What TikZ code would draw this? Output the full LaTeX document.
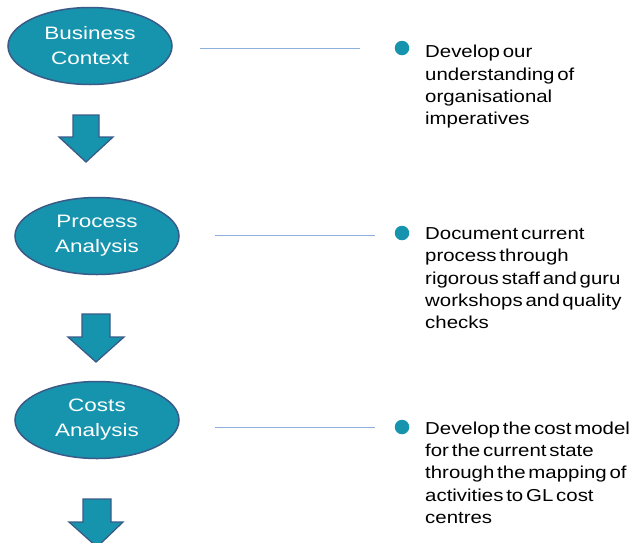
\documentclass[tikz,border=0pt]{standalone}
\usepackage{fontspec}
\setmainfont{Liberation Sans}
\newfontfamily\stagefont[FakeStretch=1.25]{Liberation Sans}
\newfontfamily\descfont[FakeStretch=1.18,WordSpace=0.5]{Liberation Sans}
\usetikzlibrary{shapes.geometric}
\definecolor{tealfill}{HTML}{1794AD}
\definecolor{edgeblue}{HTML}{3A5A88}
\definecolor{lineblue}{HTML}{8DB0DC}
\begin{document}
\begin{tikzpicture}[x=1pt,y=-1pt,
  stage/.style={ellipse,draw=edgeblue,line width=1.5pt,fill=tealfill,text=white,
    minimum width=164pt,minimum height=77pt,inner sep=0pt,align=center,
    font=\stagefont\fontsize{18}{25}\selectfont},
  downarrow/.style={draw=edgeblue,line width=1.3pt,fill=tealfill,line join=miter},
  link/.style={draw=lineblue,line width=0.8pt},
  dot/.style={circle,fill=tealfill,minimum size=14.5pt,inner sep=0pt},
  desc/.style={anchor=north west,align=left,inner sep=0pt,
    font=\descfont\fontsize{17.3}{22.3}\selectfont}]
\useasboundingbox (0,0) rectangle (635,542);
% stages
\node[stage] (s1) at (90,46) {Business\\Context};
\node[stage] (s2) at (97,236) {Process\\Analysis};
\node[stage] (s3) at (97,420) {Costs\\Analysis};
% arrows
\draw[downarrow] (73,115) -- (99,115) -- (99,137) -- (113,137) -- (86,162) -- (59,137) -- (73,137) -- cycle;
\draw[downarrow] (82,314) -- (110,314) -- (110,337) -- (124,337) -- (96,362) -- (68,337) -- (82,337) -- cycle;
\draw[downarrow] (83,499) -- (111,499) -- (111,522) -- (123,522) -- (97,547) -- (69,522) -- (83,522) -- cycle;
% link lines
\coordinate (l1a) at (200,48); \coordinate (l1b) at (360,48);
\coordinate (l2a) at (215,235); \coordinate (l2b) at (375,235);
\coordinate (l3a) at (215,427); \coordinate (l3b) at (375,427);
\draw[link] (l1a) -- (l1b);
\draw[link] (l2a) -- (l2b);
\draw[link] (l3a) -- (l3b);
% bullets
\node[dot] (b1) at (402,48) {};
\node[dot] (b2) at (402,233) {};
\node[dot] (b3) at (402,427) {};
\node[desc] (t1) at (425,45) {Develop our\\understanding of\\organisational\\imperatives};
\node[desc] (t2) at (425,227.5) {Document current\\process through\\rigorous staff and guru\\workshops and quality\\checks};
\node[desc] (t3) at (425,421.5) {Develop the cost model\\for the current state\\through the mapping of\\activities to GL cost\\centres};
\end{tikzpicture}
\end{document}
